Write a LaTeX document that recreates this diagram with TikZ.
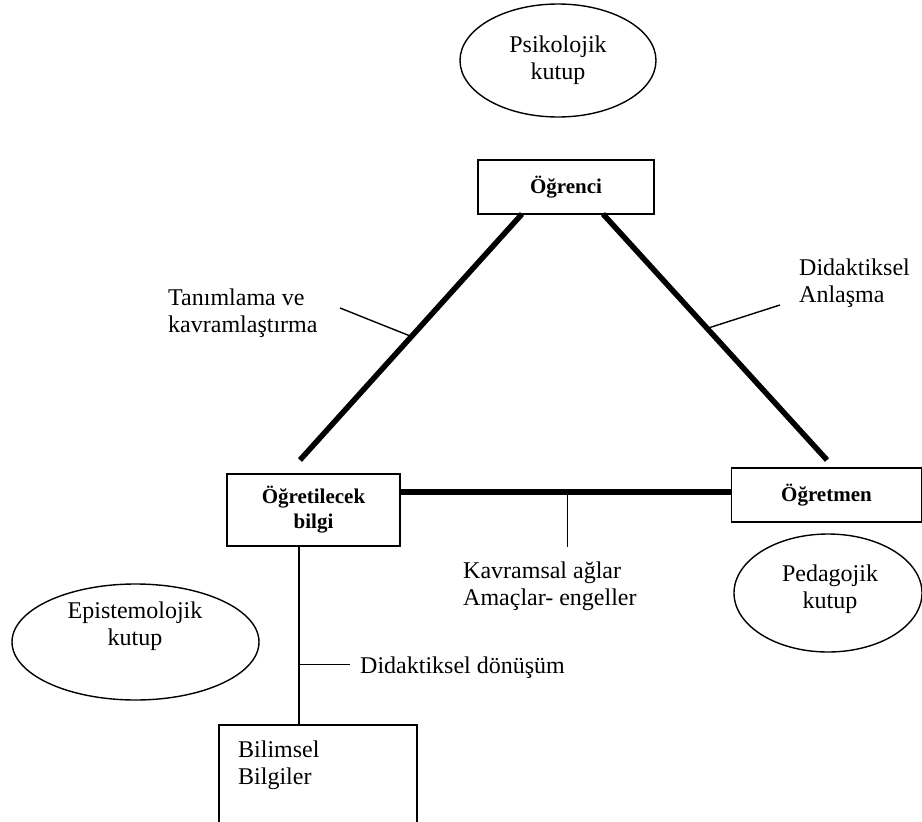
\documentclass[tikz,border=0pt]{standalone}
\usepackage{fontspec}
\setmainfont{Liberation Serif}
\usetikzlibrary{shapes.geometric}
\newcommand{\twoC}[2]{\begin{tabular}[t]{@{}c@{}}#1\\#2\end{tabular}}
\newcommand{\twoL}[2]{\begin{tabular}[t]{@{}l@{}}#1\\#2\end{tabular}}
\begin{document}
\begin{tikzpicture}[x=1pt,y=-1pt,
  txt/.style={font=\fontsize{24}{27}\selectfont, inner sep=0pt},
  ell/.style={draw, ellipse, line width=1.4pt, inner sep=0pt},
  boxn/.style={draw, rectangle, line width=1.5pt, font=\bfseries\fontsize{21}{25}\selectfont, align=center, inner sep=0pt},
  heavy/.style={line width=5.5pt},
  thinline/.style={line width=1.4pt}]
\useasboundingbox (0,0) rectangle (922,822);

% ellipses (poles)
\node[ell, minimum width=196, minimum height=113] (psi) at (558,60.5) {};
\node[txt, anchor=base] (psit) at (558,52) {\twoC{Psikolojik}{kutup}};
\node[ell, minimum width=247, minimum height=116] (epi) at (135.5,642) {};
\node[txt, anchor=base] (epit) at (135,618) {\twoC{Epistemolojik}{kutup}};
\node[ell, minimum width=188, minimum height=118] (ped) at (828,593) {};
\node[txt, anchor=base] (pedt) at (830,581) {\twoC{Pedagojik}{kutup}};

% boxes
\node[boxn, minimum width=176, minimum height=54] (ogr) at (566,187) {Öğrenci};
\node[boxn, minimum width=173, minimum height=72] (obg) at (313.5,510) {Öğretilecek\\bilgi};
\node[boxn, minimum width=190, minimum height=54] (ogm) at (826.5,495) {Öğretmen};
\node[draw, line width=1.5pt, minimum width=198, minimum height=101, anchor=north west, inner sep=0pt] (bil) at (218,724) {};
\node[txt, anchor=base west] (bilt) at (238,757) {\twoL{Bilimsel}{Bilgiler}};

% labels
\node[txt, anchor=base west] (tan) at (168,305) {\twoL{Tanımlama ve}{kavramlaştırma}};
\node[txt, anchor=base west] (dan) at (799,275) {\twoL{Didaktiksel}{Anlaşma}};
\node[txt, anchor=base west] (kav) at (463,578) {\twoL{Kavramsal ağlar}{Amaçlar- engeller}};
\node[txt, anchor=base west] (ddn) at (360,673) {Didaktiksel dönüşüm};

% triangle sides
\coordinate (l1) at (522,214);
\coordinate (l2) at (300,460);
\coordinate (r1) at (603,214);
\coordinate (r2) at (827,460);
\coordinate (hy) at (0,492);
\draw[heavy] (l1) -- (l2) coordinate[pos=0.498] (lt);
\draw[heavy] (r1) -- (r2) coordinate[pos=0.465] (rt);
\draw[heavy] (obg.east |- hy) -- (ogm.west |- hy) coordinate[pos=0.505] (ht);

% label ticks
\coordinate (tanE) at (340,308);
\coordinate (danE) at (780,305);
\coordinate (kavE) at (0,547);
\draw[thinline] (lt) -- (tanE);
\draw[thinline] (rt) -- (danE);
\draw[thinline] (ht) -- (ht |- kavE);

% transformation line
\coordinate (vx) at (299,0);
\coordinate (ddnE) at (350,0);
\draw[thinline] (obg.south -| vx) -- (bil.north -| vx) coordinate[pos=0.663] (vt);
\draw[thinline] (vt) -- (vt -| ddnE);
\end{tikzpicture}
\end{document}
